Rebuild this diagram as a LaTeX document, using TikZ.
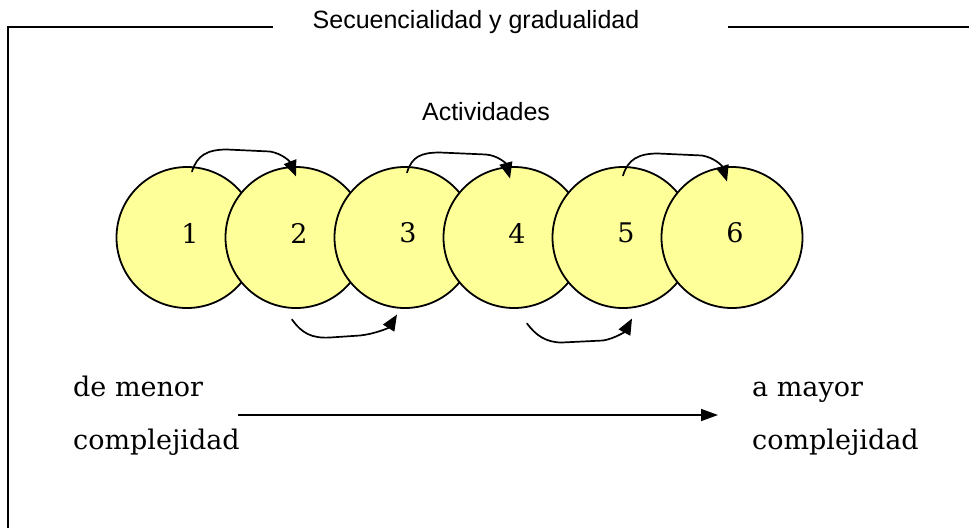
\documentclass[tikz,border=0pt]{standalone}
\usepackage{fontspec}
\setmainfont{DejaVu Serif}
\newfontfamily\arialfont{Liberation Sans}
\usetikzlibrary{arrows.meta,calc}
\definecolor{circfill}{HTML}{FFFF99}
\tikzset{
  frameline/.style={line width=2pt},
  actcircle/.style={circle,draw,line width=1.8pt,fill=circfill,minimum size=141pt,inner sep=0pt},
  numtext/.style={font=\fontsize{27}{32}\selectfont,inner sep=0pt},
  sidetext/.style={font=\fontsize{27}{32}\selectfont,inner sep=0pt,anchor=base west},
  sanstext/.style={font=\arialfont\fontsize{25}{30}\selectfont,inner sep=0pt,anchor=base},
  hoparrow/.style={line width=1.7pt,line cap=round,-{Triangle[length=16pt,width=13pt]}},
  mainarrow/.style={line width=1.7pt,-{Triangle[length=17pt,width=12pt]}}
}
\begin{document}
\begin{tikzpicture}[x=1pt,y=-1pt]
\useasboundingbox (0,0) rectangle (969,528);
% frame
\draw[frameline] (8,528) -- (8,27) -- (273,27);
\draw[frameline] (728,27) -- (969,27);
\node[sanstext] (title) at (476,28.5) {Secuencialidad y gradualidad};
\node[sanstext] (act) at (486,120) {Actividades};
% circles
\foreach \i/\x in {1/187,2/296,3/405,4/514,5/623,6/732}{
  \node[actcircle] (c\i) at (\x,237.5) {};
  \node[numtext] (n\i) at ([shift={(3,-4.5)}]c\i.center) {\i};
}
% top arrows
\draw[hoparrow] ([shift={(5,-66)}]c1.center) .. controls ([shift={(10,-82)}]c1.center) and ([shift={(20,-88)}]c1.center) .. ([shift={(40,-88)}]c1.center)
  -- ([shift={(-26,-86)}]c2.center) .. controls ([shift={(-14,-84)}]c2.center) and ([shift={(-6,-76)}]c2.center) .. ([shift={(0,-61)}]c2.center);
\draw[hoparrow] ([shift={(2,-65)}]c3.center) .. controls ([shift={(7,-81)}]c3.center) and ([shift={(16,-85)}]c3.center) .. ([shift={(35,-85)}]c3.center)
  -- ([shift={(-28,-83)}]c4.center) .. controls ([shift={(-16,-82)}]c4.center) and ([shift={(-8,-74)}]c4.center) .. ([shift={(-4,-59)}]c4.center);
\draw[hoparrow] ([shift={(0,-62)}]c5.center) .. controls ([shift={(5,-78)}]c5.center) and ([shift={(15,-84)}]c5.center) .. ([shift={(35,-84)}]c5.center)
  -- ([shift={(-30,-82)}]c6.center) .. controls ([shift={(-18,-80)}]c6.center) and ([shift={(-10,-72)}]c6.center) .. ([shift={(-5,-56)}]c6.center);
% bottom arrows
\draw[hoparrow] ([shift={(-4,82)}]c2.center) .. controls ([shift={(6,96)}]c2.center) and ([shift={(16,101)}]c2.center) .. ([shift={(34,100)}]c2.center)
  -- ([shift={(-45,98)}]c3.center) .. controls ([shift={(-28,96)}]c3.center) and ([shift={(-16,90)}]c3.center) .. ([shift={(-8,77)}]c3.center);
\draw[hoparrow] ([shift={(13,86)}]c4.center) .. controls ([shift={(22,98)}]c4.center) and ([shift={(32,105)}]c4.center) .. ([shift={(48,105)}]c4.center)
  -- ([shift={(-20,103)}]c5.center) .. controls ([shift={(-8,101)}]c5.center) and ([shift={(2,94)}]c5.center) .. ([shift={(9,81)}]c5.center);
% side texts
\node[sidetext] (lt1) at (73,396) {de menor};
\node[sidetext] (lt2) at (73,449) {complejidad};
\node[sidetext] (rt1) at (752,396) {a mayor};
\node[sidetext] (rt2) at (752,449) {complejidad};
\coordinate (ma) at (238,415);
\coordinate (mb) at (718,415);
\draw[mainarrow] (ma) -- (mb);
\end{tikzpicture}
\end{document}
